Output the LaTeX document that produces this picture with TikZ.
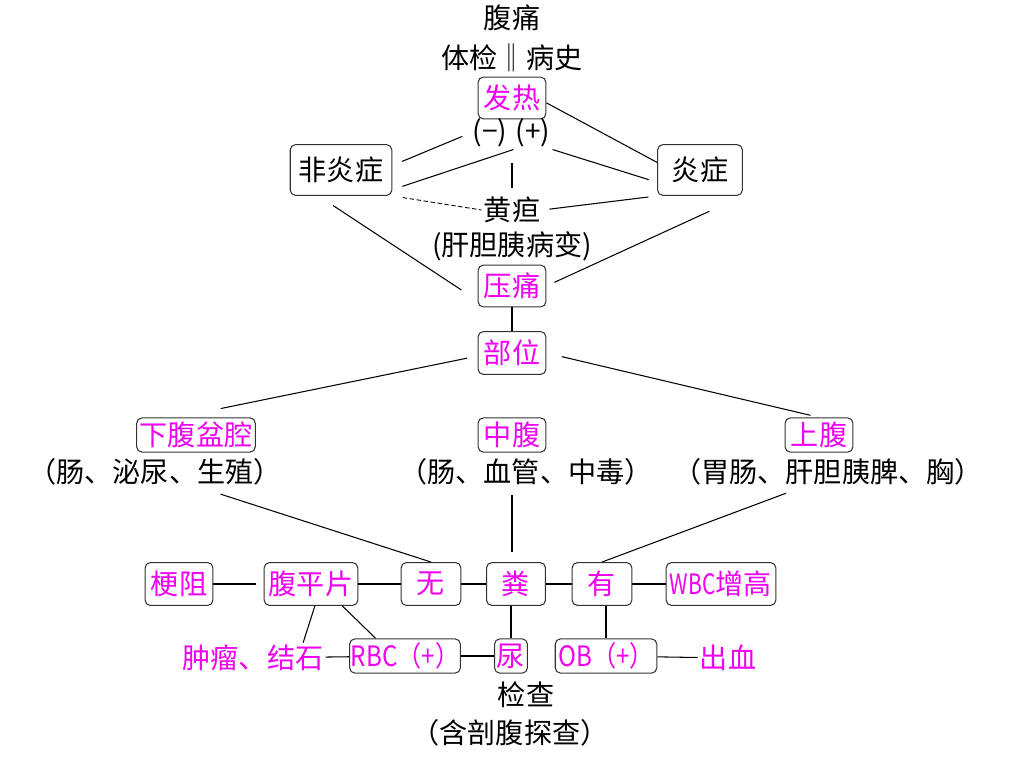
\documentclass[tikz,border=0pt]{standalone}
\usepackage{fontspec}
\setmainfont{Noto Sans CJK SC}
\usepackage{tikz}
\usetikzlibrary{calc}
\definecolor{mag}{RGB}{240,0,240}
\newcommand{\squeeze}[2][.86]{\scalebox{#1}[1]{#2}}
\tikzset{%
  box/.style={draw=black!80, rounded corners=3pt, text=mag, inner sep=0pt,
    minimum width=38.6pt, minimum height=24.4pt},
  lab/.style={inner sep=1pt},
  thin box/.style={box, minimum height=19.5pt}
}

\begin{document}
\begin{tikzpicture}[x=0.02cm, y=-0.02cm, line width=0.6pt,
  every node/.style={font=\fontsize{16}{19}\selectfont}]
\useasboundingbox (0,0) rectangle (1024,768);

% top part
\node[lab] (tong) at (512,18) {腹痛};
\node[lab] (jc) at (512,58) {体检‖病史};
\node[box, minimum height=23.8pt] (fr) at (512,98) {发热};
\node[lab] (neg) at (490,133) {(−)};
\node[lab] (pos) at (533,133) {(+)};
\node[box, text=black, minimum width=57.8pt, minimum height=28.9pt] (fyz) at (341,170) {非炎症};
\node[box, text=black, minimum width=48.2pt, minimum height=28.9pt] (yz) at (700,170) {炎症};
\node[lab] (hd) at (512,210) {黄疸};
\node[lab] (hdx) at (512,246) {(肝胆胰病变)};
\node[box, minimum height=23.8pt] (yt) at (512,286) {压痛};
\node[box] (bw) at (512,353) {部位};

\draw (fr.-8) -- (yz.170);
\draw[shorten <=6pt, shorten >=5pt] (fyz.5) -- (neg.west);
\draw[shorten <=6pt] (fyz.-21) -- (pos.south west);
\draw[shorten >=5pt] (pos.south east) -- (yz.196);
\draw[shorten <=25pt, shorten >=4pt] (fr.south) -- (hd.north);
\draw[dash pattern=on 2.5pt off 1.5pt, line width=0.5pt, shorten <=6pt] (fyz.south east) -- (hd.west);
\draw[shorten <=4pt, shorten >=5pt] (hd.east) -- (yz.south west);
\draw[shorten <=10pt, shorten >=11pt] (fyz.-131) -- (yt.203);
\draw[shorten <=21pt, shorten >=5pt] (yz.south east) -- (yt.east);
\draw (yt) -- (bw);

% three regions
\node[thin box, minimum width=67.5pt] (xf) at (196,435) {下腹盆腔};
\node[lab] (xfx) at (155,472) {（肠、泌尿、生殖）};
\node[thin box] (zf) at (512,435) {中腹};
\node[lab] (zfx) at (526,472) {（肠、血管、中毒）};
\node[thin box] (sf) at (819,435) {上腹};
\node[lab] (sfx) at (828,472) {（胃肠、肝胆胰脾、胸）};

\draw[shorten <=6pt, shorten >=25pt] (bw.185) -- (xf.136);
\draw[shorten <=9pt, shorten >=5pt] (bw.east) -- (sf.north);

% bottom rows
\node[box] (gz) at (179,584) {梗阻};
\node[box, minimum width=53.3pt] (fpp) at (311,584) {腹平片};
\node[box, minimum width=34pt] (wu) at (431,584) {无};
\node[box, minimum width=33.5pt] (fen) at (516,584) {粪};
\node[box, minimum width=34pt] (you) at (602,584) {有};
\node[box, minimum width=62.4pt] (wbc) at (721,584) {\squeeze[.75]{WBC}增高};
\node[lab, text=mag] (zl) at (253,658) {肿瘤、结石};
\node[thin box, minimum width=63pt] (rbc) at (405,656) {\squeeze{RBC（+）}};
\node[thin box, minimum width=18.7pt] (niao) at (511,656) {尿};
\node[thin box, minimum width=57.8pt] (ob) at (606,656) {\squeeze{OB（+）}};
\node[lab, text=mag] (cx) at (728,658) {出血};
\node[lab] (jch) at (526,695) {检查};
\node[lab] (jchx) at (510,733) {（含剖腹探查）};

\draw[shorten <=12pt] (xfx.-19) -- (wu.north);
\draw[shorten <=24pt, shorten >=6pt] (zf.south) -- (zf.south |- fen.north);
\draw[shorten >=9pt] (you.north) -- (sfx.-150);
\draw[shorten >=4.5pt] (gz) -- (fpp);
\draw (fpp) -- (wu);
\draw (wu) -- (fen);
\draw (fen) -- (you);
\draw (you) -- (wbc);
\draw (fpp.-80) -- (zl.17);
\draw (fpp.-35) -- (rbc.149);
\draw (zl) -- (rbc);
\draw (rbc) -- (niao);
\draw (fen.south -| niao) -- (niao);
\draw (you.south -| ob) -- (ob);
\draw (ob) -- (cx);
\end{tikzpicture}
\end{document}
